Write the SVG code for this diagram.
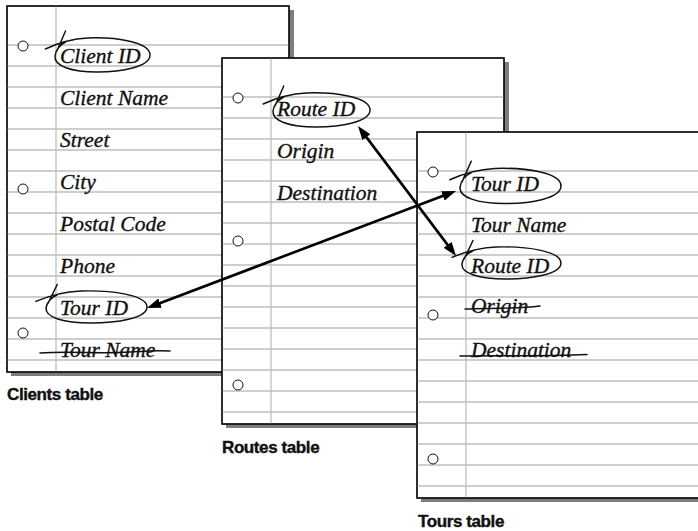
<svg xmlns="http://www.w3.org/2000/svg" xmlns:xlink="http://www.w3.org/1999/xlink" width="698" height="531" viewBox="0 0 698 531">
<style>
.rule{stroke:#bfbfbf;stroke-width:1.3;fill:none}
.sheet{fill:#fff;stroke:#111;stroke-width:1.3}
.shadow{fill:#7d7d7d}
.hole{fill:#fff;stroke:#111;stroke-width:1}
.fld{font-family:"Liberation Serif","Times New Roman",serif;font-style:italic;font-size:21.5px;fill:#111;stroke:#111;stroke-width:0.35}
.pen{fill:none;stroke:#111;stroke-width:1.5;stroke-linecap:round;stroke-linejoin:round}
.cap{font-family:"Liberation Sans",Arial,sans-serif;font-weight:bold;font-size:17px;fill:#111;stroke:#111;stroke-width:0.4;letter-spacing:-0.4px}
.conn{stroke:#000;stroke-width:2.6;fill:none}
</style>
<defs>
<g id="paper">
<rect class="shadow" x="4" y="4" width="283" height="366"/>
<rect class="sheet" x="0" y="0" width="282" height="366"/>
<path class="rule" d="M0,39H282M0,60H282M0,81H282M0,102H282M0,123H282M0,144H282M0,165H282M0,186H282M0,207H282M0,228H282M0,249H282M0,270H282M0,291H282M0,312H282M0,333H282M0,354H282M49,0V366"/>
<rect x="0" y="0" width="282" height="366" fill="none" stroke="#111" stroke-width="1.3"/>
<circle class="hole" cx="16" cy="40" r="5"/>
<circle class="hole" cx="16" cy="183" r="5"/>
<circle class="hole" cx="16" cy="327" r="5"/>
</g>
<path id="lasso" class="pen" d="M-59,-6 C-48,-11 -35,-16 -15,-17 C15,-18 50,-13 50,0 C50,12 20,17 -5,17 C-32,17 -50,11 -49,1 C-48,-6 -44,-10 -38,-13 M-47,-4 L-38,-24"/>
<marker id="ah" viewBox="0 0 14 10" refX="6" refY="5" markerWidth="14" markerHeight="10" markerUnits="userSpaceOnUse" orient="auto-start-reverse">
<path d="M0,0 L14,5 L0,10 z" fill="#000"/>
</marker>
</defs>

<g id="clients">
<use xlink:href="#paper" x="7" y="6"/>
<text class="fld" x="60" y="63">Client ID</text>
<text class="fld" x="60" y="105">Client Name</text>
<text class="fld" x="60" y="147">Street</text>
<text class="fld" x="60" y="189">City</text>
<text class="fld" x="60" y="231">Postal Code</text>
<text class="fld" x="60" y="273">Phone</text>
<text class="fld" x="60" y="315">Tour ID</text>
<text class="fld" x="60" y="357">Tour Name</text>
<use xlink:href="#lasso" transform="translate(102,55) scale(0.96,1)"/>
<use xlink:href="#lasso" transform="translate(96,307) scale(1.02,0.94)"/>
<path class="pen" d="M40,353 C70,351 100,354 130,352 C145,351 158,350 170,351"/>
</g>

<g id="routes">
<use xlink:href="#paper" x="222" y="58"/>
<text class="fld" x="277" y="116">Route ID</text>
<text class="fld" x="277" y="158">Origin</text>
<text class="fld" x="277" y="200">Destination</text>
<use xlink:href="#lasso" transform="translate(321,110) scale(0.98,1)"/>
</g>

<g id="tours">
<use xlink:href="#paper" x="417" y="132"/>
<text class="fld" x="471" y="190.5">Tour ID</text>
<text class="fld" x="471" y="231.5">Tour Name</text>
<text class="fld" x="471" y="273">Route ID</text>
<text class="fld" x="471" y="313">Origin</text>
<text class="fld" x="471" y="356.5">Destination</text>
<use xlink:href="#lasso" transform="translate(510,186) scale(1.02,1.03)"/>
<use xlink:href="#lasso" transform="translate(511,263) scale(1,0.94)"/>
<path class="pen" d="M465,309 C490,308 515,309 540,306"/>
<path class="pen" d="M460,356 C500,355.5 545,356.5 587,354.5"/>
</g>

<g id="connectors">
<line class="conn" x1="362.8" y1="132.4" x2="451.2" y2="249.6" marker-start="url(#ah)" marker-end="url(#ah)"/>
<line class="conn" x1="154.5" y1="305.2" x2="448.5" y2="193.8" marker-start="url(#ah)" marker-end="url(#ah)"/>
</g>

<g id="captions">
<text class="cap" x="7" y="400">Clients table</text>
<text class="cap" x="222" y="453">Routes table</text>
<text class="cap" x="418" y="527">Tours table</text>
</g>
</svg>
